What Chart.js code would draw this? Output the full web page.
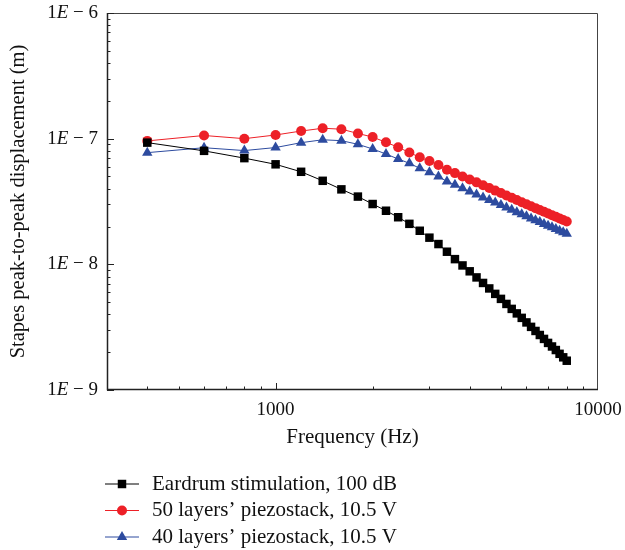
<!DOCTYPE html>
<html>
<head>
<meta charset="utf-8">
<script src="https://cdn.jsdelivr.net/npm/chart.js@4.4.0/dist/chart.umd.min.js"></script>
<style>
    html, body { margin: 0; padding: 0; background: #fff; }
</style>
</head>
<body>
<canvas id="graficoEstribo" width="625" height="550"></canvas>
<script>
// Frecuencias medidas (Hz)
const FRECUENCIAS = [
    400, 600, 800, 1000, 1200, 1400, 1600, 1800, 2000, 2200,
    2400, 2600, 2800, 3000, 3200, 3400, 3600, 3800, 4000, 4200,
    4400, 4600, 4800, 5000, 5200, 5400, 5600, 5800, 6000, 6200,
    6400, 6600, 6800, 7000, 7200, 7400, 7600, 7800, 8000
];

// Desplazamiento pico a pico del estribo (m)
const TIMPANO_100DB = [
    9.3e-8, 8.0e-8, 7.0e-8, 6.25e-8, 5.45e-8, 4.62e-8, 3.95e-8, 3.46e-8, 3.02e-8, 2.67e-8,
    2.37e-8, 2.10e-8, 1.85e-8, 1.63e-8, 1.45e-8, 1.26e-8, 1.10e-8, 9.8e-9, 8.8e-9, 7.87e-9,
    7.11e-9, 6.43e-9, 5.82e-9, 5.31e-9, 4.84e-9, 4.42e-9, 4.07e-9, 3.75e-9, 3.45e-9, 3.18e-9,
    2.95e-9, 2.74e-9, 2.55e-9, 2.37e-9, 2.22e-9, 2.08e-9, 1.94e-9, 1.82e-9, 1.71e-9
];
const PIEZO_50_CAPAS = [
    9.6e-8, 1.06e-7, 1.0e-7, 1.07e-7, 1.15e-7, 1.21e-7, 1.19e-7, 1.10e-7, 1.03e-7, 9.35e-8,
    8.55e-8, 7.75e-8, 7.11e-8, 6.65e-8, 6.18e-8, 5.66e-8, 5.32e-8, 5.00e-8, 4.73e-8, 4.49e-8,
    4.26e-8, 4.05e-8, 3.86e-8, 3.69e-8, 3.53e-8, 3.39e-8, 3.25e-8, 3.12e-8, 3.01e-8, 2.90e-8,
    2.80e-8, 2.71e-8, 2.62e-8, 2.54e-8, 2.46e-8, 2.39e-8, 2.32e-8, 2.25e-8, 2.19e-8
];
const PIEZO_40_CAPAS = [
    7.74e-8, 8.47e-8, 8.04e-8, 8.5e-8, 9.29e-8, 9.8e-8, 9.64e-8, 9.02e-8, 8.28e-8, 7.55e-8,
    6.89e-8, 6.37e-8, 5.81e-8, 5.40e-8, 4.99e-8, 4.57e-8, 4.29e-8, 4.03e-8, 3.80e-8, 3.60e-8,
    3.41e-8, 3.25e-8, 3.10e-8, 2.96e-8, 2.83e-8, 2.72e-8, 2.60e-8, 2.50e-8, 2.41e-8, 2.32e-8,
    2.24e-8, 2.17e-8, 2.09e-8, 2.03e-8, 1.97e-8, 1.91e-8, 1.85e-8, 1.80e-8, 1.75e-8
];

// Etiquetas de los ejes (solo las décadas llevan texto)
const TICKS_X = [1000, 10000];
const TICKS_Y = [1e-9, 1e-8, 1e-7, 1e-6];

const FUENTE = '"Liberation Serif", "Times New Roman", serif';

// Convierte los arrays en puntos {x, y}
function aPuntos(valores) {
    return FRECUENCIAS.map((f, i) => ({ x: f, y: valores[i] }));
}

/**
 * Marco del gráfico, marcas de escala hacia adentro y etiquetas del eje y
 * con la "E" en cursiva.
 */
const marcoEjes = {
    id: 'marcoEjes',
    afterDraw(chart) {
        const { ctx, chartArea: a, scales: { x, y } } = chart;
        ctx.save();

        // Borde superior y derecho
        ctx.strokeStyle = '#444';
        ctx.lineWidth = 1;
        ctx.beginPath();
        ctx.moveTo(a.left, a.top + 0.5);
        ctx.lineTo(a.right - 0.5, a.top + 0.5);
        ctx.lineTo(a.right - 0.5, a.bottom);
        ctx.stroke();

        // Ejes izquierdo e inferior
        ctx.strokeStyle = '#222';
        ctx.lineWidth = 1.5;
        ctx.beginPath();
        ctx.moveTo(a.left + 0.5, a.top);
        ctx.lineTo(a.left + 0.5, a.bottom - 0.5);
        ctx.lineTo(a.right, a.bottom - 0.5);
        ctx.stroke();

        ctx.lineWidth = 1;
        ctx.beginPath();
        // Marcas del eje x: 300..900, 1000..9000, 10000
        for (let dec = 100; dec <= 1000; dec *= 10) {
            for (let k = 1; k <= 9; k++) {
                const v = k * dec;
                if (v < x.min || v > x.max) continue;
                const px = Math.round(x.getPixelForValue(v)) + 0.5;
                const largo = k === 1 ? 7 : 3.5;
                ctx.moveTo(px, a.bottom);
                ctx.lineTo(px, a.bottom - largo);
            }
        }
        // Marcas del eje y: 2..9 de cada década
        for (let dec = 1e-9; dec < 1e-6 * 1.01; dec *= 10) {
            for (let k = 1; k <= 9; k++) {
                const v = k * dec;
                if (v < y.min * 0.999 || v > y.max * 1.001) continue;
                const py = Math.round(y.getPixelForValue(v)) + 0.5;
                const largo = k === 1 ? 7 : 3.5;
                ctx.moveTo(a.left, py);
                ctx.lineTo(a.left + largo, py);
            }
        }
        ctx.stroke();

        // Etiquetas "1E − n" alineadas a la derecha del eje y
        ctx.fillStyle = '#111';
        ctx.textBaseline = 'middle';
        const normal = '19px ' + FUENTE;
        const cursiva = 'italic 19px ' + FUENTE;
        y.ticks.forEach(t => {
            const py = y.getPixelForValue(t.value);
            const partes = [
                ['1', normal],
                ['E', cursiva],
                [' \u2212 ' + Math.round(-Math.log10(t.value)), normal]
            ];
            let ancho = 0;
            partes.forEach(([txt, f]) => { ctx.font = f; ancho += ctx.measureText(txt).width; });
            let px = a.left - 9 - ancho;
            partes.forEach(([txt, f]) => {
                ctx.font = f;
                ctx.fillText(txt, px, py);
                px += ctx.measureText(txt).width;
            });
        });
        ctx.restore();
    }
};

/**
 * Leyenda debajo del gráfico: línea con su marcador y el nombre de la serie.
 */
const leyendaFilas = {
    id: 'leyendaFilas',
    afterDraw(chart) {
        const ctx = chart.ctx;
        const x0 = 105, x1 = 139, xTexto = 152;
        const yInicio = 484, salto = 26.5;
        ctx.save();
        ctx.font = '21px ' + FUENTE;
        ctx.textBaseline = 'middle';
        chart.data.datasets.forEach((ds, i) => {
            const yFila = yInicio + i * salto;
            ctx.strokeStyle = ds.borderColor;
            ctx.lineWidth = ds.borderWidth;
            ctx.beginPath();
            ctx.moveTo(x0, yFila);
            ctx.lineTo(x1, yFila);
            ctx.stroke();

            ctx.fillStyle = ds.pointBackgroundColor;
            Chart.helpers.drawPoint(ctx, {
                pointStyle: ds.pointStyle,
                radius: ds.pointRadius,
                rotation: 0,
                borderWidth: 0
            }, (x0 + x1) / 2, yFila);

            ctx.fillStyle = '#111';
            ctx.fillText(ds.label, xTexto, yFila);
        });
        ctx.restore();
    }
};

function serie(label, valores, color, estilo, radio) {
    return {
        label: label,
        data: aPuntos(valores),
        borderColor: color,
        backgroundColor: color,
        pointBackgroundColor: color,
        pointBorderColor: color,
        pointBorderWidth: 0,
        pointStyle: estilo,
        pointRadius: radio,
        borderWidth: 1,
        tension: 0
    };
}

new Chart(document.getElementById('graficoEstribo').getContext('2d'), {
    type: 'line',
    data: {
        datasets: [
            serie('Eardrum stimulation, 100 dB', TIMPANO_100DB, '#000000', 'rect', 6),
            serie('50 layers\u2019 piezostack, 10.5 V', PIEZO_50_CAPAS, '#ED2027', 'circle', 5),
            serie('40 layers\u2019 piezostack, 10.5 V', PIEZO_40_CAPAS, '#2D4B9F', 'triangle', 6)
        ]
    },
    options: {
        responsive: false,
        animation: false,
        devicePixelRatio: 1,
        layout: { padding: { left: 0, right: 27, top: 13, bottom: 100 } },
        plugins: {
            legend: { display: false },
            tooltip: { enabled: false }
        },
        scales: {
            x: {
                type: 'logarithmic',
                min: 300,
                max: 10000,
                afterBuildTicks: s => { s.ticks = TICKS_X.map(v => ({ value: v })); },
                afterFit: s => {
                    s.height = 60;
                    // el margen derecho lo fija layout.padding
                    s.paddingLeft = 0;
                    s.paddingRight = 0;
                },
                grid: { display: false, drawTicks: false },
                border: { display: false },
                ticks: {
                    autoSkip: false,
                    maxRotation: 0,
                    padding: 9,
                    color: '#111',
                    font: { family: FUENTE, size: 19 },
                    callback: v => String(v)
                },
                title: {
                    display: true,
                    text: 'Frequency (Hz)',
                    color: '#111',
                    font: { family: FUENTE, size: 21 },
                    padding: 0
                }
            },
            y: {
                type: 'logarithmic',
                min: 1e-9,
                max: 1e-6,
                afterBuildTicks: s => { s.ticks = TICKS_Y.map(v => ({ value: v })); },
                afterFit: s => { s.width = 107; },
                grid: { display: false, drawTicks: false },
                border: { display: false },
                // las etiquetas se dibujan en marcoEjes (E en cursiva)
                ticks: { display: false },
                title: {
                    display: true,
                    text: 'Stapes peak-to-peak displacement (m)',
                    color: '#111',
                    font: { family: FUENTE, size: 20.5 },
                    padding: { top: 6, bottom: 0 }
                }
            }
        }
    },
    plugins: [marcoEjes, leyendaFilas]
});
</script>
</body>
</html>
